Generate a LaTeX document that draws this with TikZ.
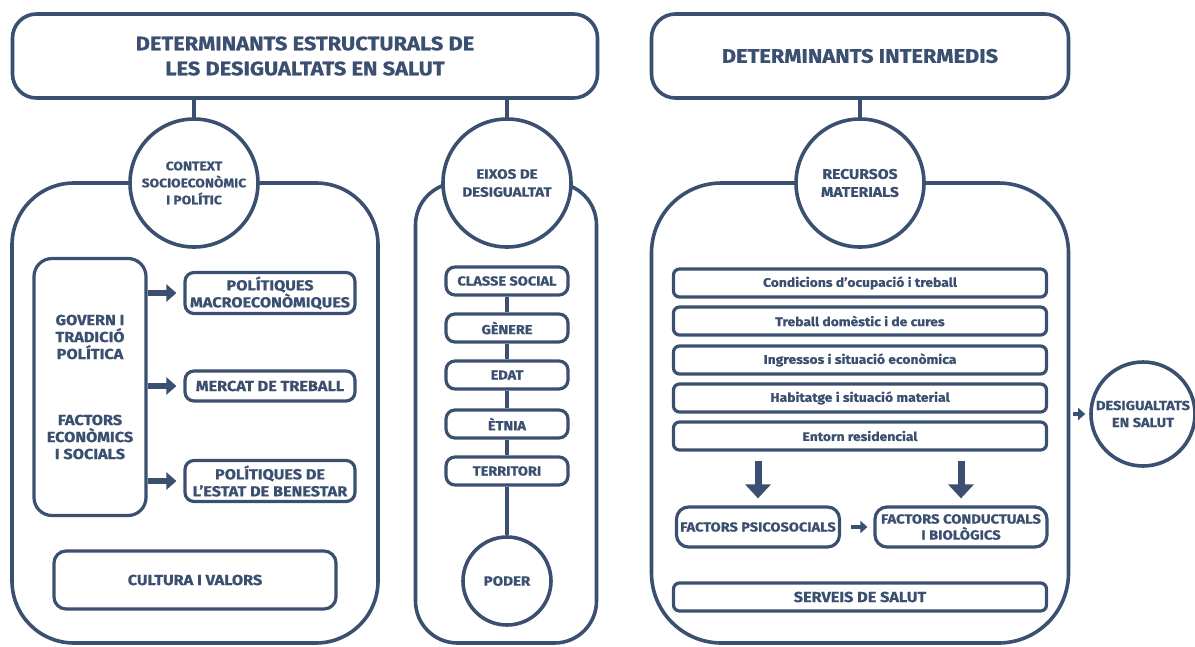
\documentclass[tikz,border=0pt]{standalone}
\usepackage{fontspec}
\setmainfont{Fira Sans}[FakeStretch=1.12,BoldFeatures={FakeBold=0.7}]
\usetikzlibrary{arrows.meta,positioning}
\definecolor{sdhblue}{RGB}{59,80,112}
\newcommand{\fsz}[2]{\fontsize{#1}{#2}\selectfont\bfseries}

\begin{document}
\begin{tikzpicture}[x=1pt,y=-1pt,
  text=sdhblue,
  font=\fsz{13}{17},
  title/.style={rectangle,rounded corners=24pt,draw=sdhblue,line width=3.6pt,fill=white,minimum height=84pt,align=center,font=\fsz{19.5}{25}},
  panel/.style={rectangle,draw=sdhblue,line width=3.6pt,minimum height=460pt},
  axis/.style={circle,draw=sdhblue,line width=3.6pt,fill=white,minimum size=128pt,inner sep=0pt,align=center},
  item/.style={rectangle,rounded corners=9pt,draw=sdhblue,line width=3.2pt,fill=white,align=center,inner sep=0pt,minimum height=28pt},
  big/.style={font=\fsz{14.5}{17}},
  link/.style={draw=sdhblue,line width=3.6pt},
  fat/.style={-{Triangle[length=10pt,width=17pt]},line width=6pt,draw=sdhblue},
  drop/.style={-{Triangle[length=14pt,width=25pt]},line width=7pt,draw=sdhblue},
  thin/.style={-{Triangle[length=7pt,width=12pt]},line width=4pt,draw=sdhblue}]
  \useasboundingbox (0,0) rectangle (1195,646);
  % titles
  \node[title,minimum width=585pt] (estruct) at (305,56) {DETERMINANTS ESTRUCTURALS DE\\LES DESIGUALTATS EN SALUT};
  \node[title,minimum width=417pt] (interm) at (860,56) {DETERMINANTS INTERMEDIS};
  % panels
  \node[panel,rounded corners=62pt,minimum width=366pt] (pleft) at (195,413) {};
  \node[panel,rounded corners=42pt,minimum width=181pt] (pmid) at (506,413) {};
  \node[panel,rounded corners=70pt,minimum width=417pt] (pright) at (860,413) {};
  % circles
  \node[axis,font=\fsz{12.3}{17}] (context) at (194,183) {CONTEXT\\SOCIOECONÒMIC\\I POLÍTIC};
  \node[axis,font=\fsz{13.5}{18}] (eixos) at (507,183) {EIXOS DE\\DESIGUALTAT};
  \node[axis,font=\fsz{14}{18}] (recursos) at (860,183) {RECURSOS\\MATERIALS};
  \node[axis,minimum size=88pt,font=\fsz{13.5}{17}] (poder) at (507,581) {PODER};
  \node[axis,minimum size=104pt] (salut) at (1143,414) {DESIGUALTATS\\EN SALUT};
  \draw[link] (context.north |- estruct.south) -- (context.north);
  \draw[link] (eixos.north |- estruct.south) -- (eixos.north);
  \draw[link] (recursos.north |- interm.south) -- (recursos.north);
  % context socioeconomic
  \node[item,big,rounded corners=18pt,minimum width=112pt,minimum height=257pt] (govern) at (90,387) {GOVERN I\\TRADICIÓ\\POLÍTICA\\[49pt]FACTORS\\ECONÒMICS\\I SOCIALS};
  \node[item,big,minimum width=170pt,minimum height=41pt] (macro) at (270,293) {POLÍTIQUES\\MACROECONÒMIQUES};
  \node[item,big,minimum width=170pt,minimum height=30pt] (mercat) at (270,386) {MERCAT DE TREBALL};
  \node[item,big,minimum width=170pt,minimum height=41pt] (benestar) at (270,481) {POLÍTIQUES DE\\L’ESTAT DE BENESTAR};
  \node[item,big,rounded corners=12pt,minimum width=282pt,minimum height=58pt] (cultura) at (195,580) {CULTURA I VALORS};
  \draw[fat,shorten >=7pt] (govern.east |- macro) -- (macro.west);
  \draw[fat,shorten >=7pt] (govern.east |- mercat) -- (mercat.west);
  \draw[fat,shorten >=7pt] (govern.east |- benestar) -- (benestar.west);
  % eixos de desigualtat
  \node[item,minimum width=122pt] (classe) at (507,281) {CLASSE SOCIAL};
  \node[item,minimum width=122pt] (genere) at (507,328) {GÈNERE};
  \node[item,minimum width=122pt] (edat) at (507,375) {EDAT};
  \node[item,minimum width=122pt] (etnia) at (507,424) {ÈTNIA};
  \node[item,minimum width=122pt] (territori) at (507,471) {TERRITORI};
  \draw[link] (classe) -- (genere);
  \draw[link] (genere) -- (edat);
  \draw[link] (edat) -- (etnia);
  \draw[link] (etnia) -- (territori);
  \draw[link] (territori) -- (poder);
  % recursos materials
  \node[item,font=\fsz{12.4}{17},rounded corners=6pt,minimum width=373pt] (ocupacio) at (860,283) {Condicions d’ocupació i treball};
  \node[item,font=\fsz{12.4}{17},rounded corners=6pt,minimum width=373pt] (cures) at (860,321) {Treball domèstic i de cures};
  \node[item,font=\fsz{12.4}{17},rounded corners=6pt,minimum width=373pt] (ingressos) at (860,360) {Ingressos i situació econòmica};
  \node[item,font=\fsz{12.4}{17},rounded corners=6pt,minimum width=373pt] (habitatge) at (860,398) {Habitatge i situació material};
  \node[item,font=\fsz{12.4}{17},rounded corners=6pt,minimum width=373pt] (entorn) at (860,436) {Entorn residencial};
  \node[item,rounded corners=12pt,minimum width=163pt,minimum height=40pt] (psico) at (758,527) {FACTORS PSICOSOCIALS};
  \node[item,rounded corners=12pt,minimum width=172pt,minimum height=40pt,font=\fsz{13.2}{16}] (conduct) at (961,527) {FACTORS CONDUCTUALS\\I BIOLÒGICS};
  \node[item,big,rounded corners=6pt,minimum width=373pt] (serveis) at (860,597) {SERVEIS DE SALUT};
  \draw[drop,shorten <=9pt,shorten >=7pt] (psico.north |- entorn.south) -- (psico.north);
  \draw[drop,shorten <=9pt,shorten >=7pt] (conduct.north |- entorn.south) -- (conduct.north);
  \draw[thin,shorten <=10pt,shorten >=6pt] (psico.east) -- (conduct.west);
  \draw[thin,shorten <=3pt,shorten >=4pt] (pright.east |- salut) -- (salut.west);
\end{tikzpicture}
\end{document}
